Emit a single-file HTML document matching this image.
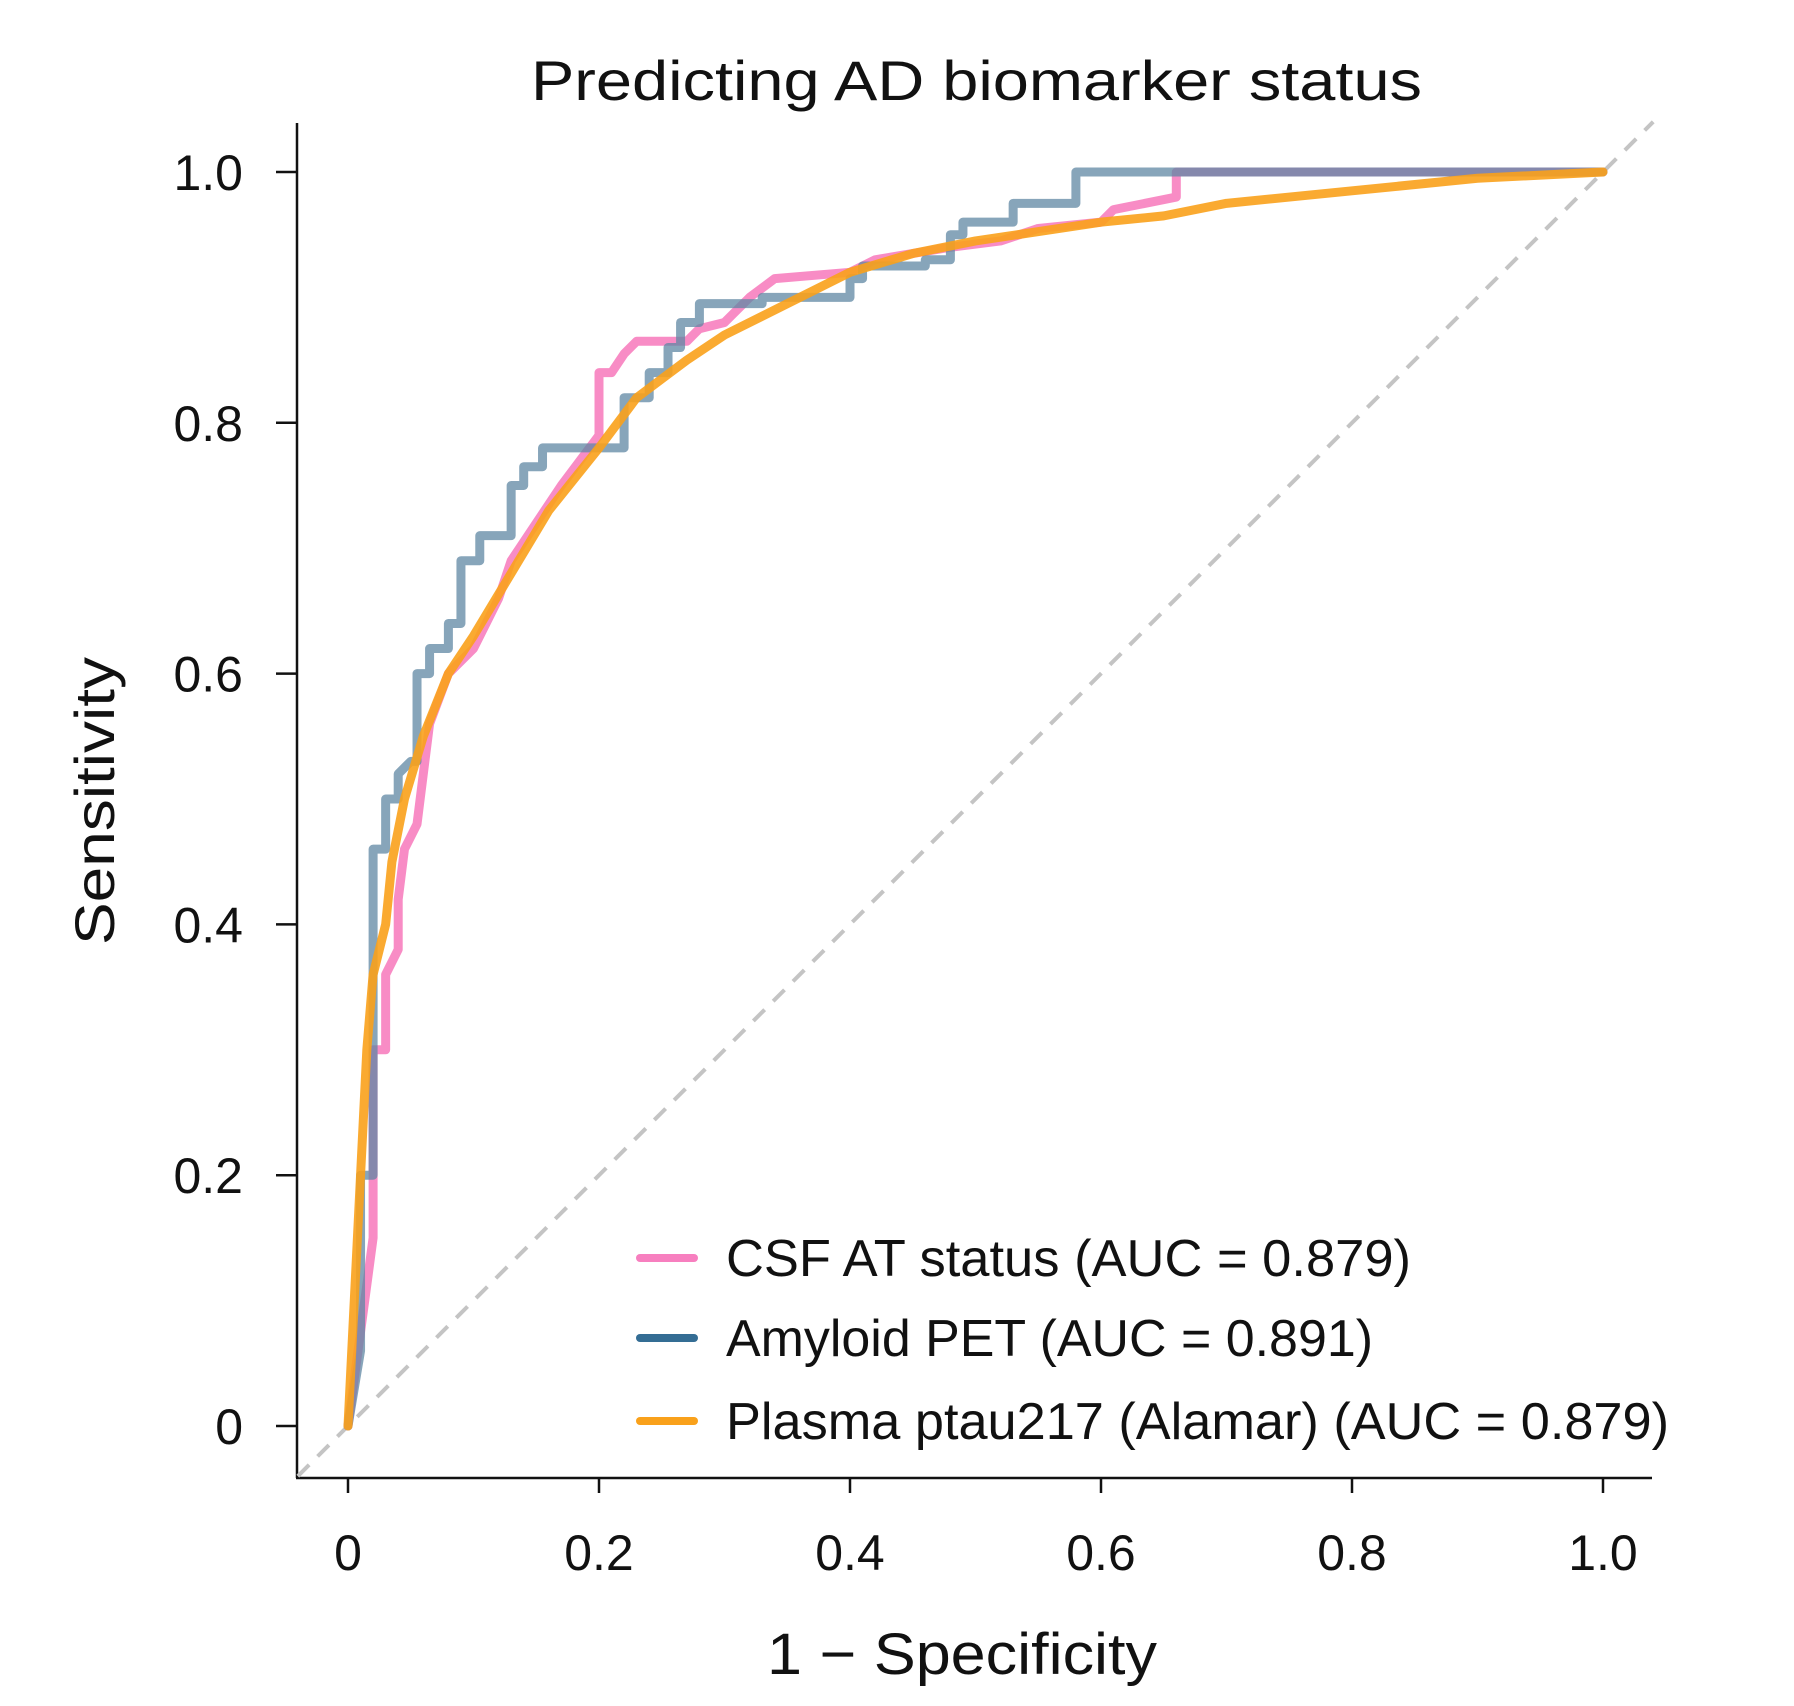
<!DOCTYPE html>
<html><head><meta charset="utf-8"><style>
html,body{margin:0;padding:0;background:#fff;}
svg{display:block;font-family:"Liberation Sans",sans-serif;}
</style></head><body>
<svg id="chart" width="1794" height="1706" viewBox="0 0 1794 1706">
<text x="531" y="100" font-size="56" textLength="891" lengthAdjust="spacingAndGlyphs" fill="#111">Predicting AD biomarker status</text>
<g id="axes"></g>
<g id="plot"></g>
<text transform="translate(114,801) rotate(-90)" font-size="56" text-anchor="middle" textLength="288" lengthAdjust="spacingAndGlyphs" fill="#111">Sensitivity</text>
<text x="767" y="1674" font-size="58" textLength="390" lengthAdjust="spacingAndGlyphs" fill="#111">1 − Specificity</text>
<g id="legend"></g>
</svg>
<script>
const xTicks=[0,0.2,0.4,0.6,0.8,1.0];
const xTickLabels=["0","0.2","0.4","0.6","0.8","1.0"];
const yTicks=[0,0.2,0.4,0.6,0.8,1.0];
const yTickLabels=["0","0.2","0.4","0.6","0.8","1.0"];
const seriesNames=["CSF AT status (AUC = 0.879)","Amyloid PET (AUC = 0.891)","Plasma ptau217 (Alamar) (AUC = 0.879)"];
const petFpr=[0,0.01,0.01,0.02,0.02,0.03,0.03,0.04,0.04,0.05,0.055,0.055,0.065,0.065,0.08,0.08,0.09,0.09,0.105,0.105,0.13,0.13,0.14,0.14,0.155,0.155,0.22,0.22,0.24,0.24,0.255,0.255,0.265,0.265,0.28,0.28,0.33,0.33,0.4,0.4,0.41,0.41,0.46,0.46,0.48,0.48,0.49,0.49,0.53,0.53,0.58,0.58,1];
const petTpr=[0,0.06,0.2,0.2,0.46,0.46,0.5,0.5,0.52,0.53,0.53,0.6,0.6,0.62,0.62,0.64,0.64,0.69,0.69,0.71,0.71,0.75,0.75,0.765,0.765,0.78,0.78,0.82,0.82,0.84,0.84,0.86,0.86,0.88,0.88,0.895,0.895,0.9,0.9,0.915,0.915,0.925,0.925,0.93,0.93,0.95,0.95,0.96,0.96,0.975,0.975,1,1];
const csfFpr=[0,0.02,0.02,0.03,0.03,0.04,0.04,0.045,0.055,0.06,0.065,0.08,0.1,0.12,0.13,0.15,0.17,0.2,0.2,0.21,0.22,0.23,0.27,0.28,0.3,0.32,0.34,0.4,0.42,0.48,0.52,0.55,0.6,0.61,0.66,0.66,1];
const csfTpr=[0,0.15,0.3,0.3,0.36,0.38,0.42,0.46,0.48,0.52,0.56,0.6,0.62,0.66,0.69,0.72,0.75,0.79,0.84,0.84,0.855,0.865,0.865,0.875,0.88,0.9,0.915,0.92,0.93,0.94,0.945,0.955,0.96,0.97,0.98,1,1];
const ptauFpr=[0,0.005,0.01,0.015,0.02,0.03,0.035,0.045,0.06,0.08,0.1,0.13,0.16,0.2,0.23,0.27,0.3,0.35,0.4,0.45,0.5,0.6,0.65,0.7,0.8,0.9,1];
const ptauTpr=[0,0.1,0.2,0.3,0.36,0.4,0.45,0.5,0.55,0.6,0.63,0.68,0.73,0.78,0.82,0.85,0.87,0.895,0.92,0.935,0.945,0.96,0.965,0.975,0.985,0.995,1];

const NS="http://www.w3.org/2000/svg";
const X=v=>348+v*1255, Y=v=>1426-v*1254;
function mk(tag,parent,attrs){const e=document.createElementNS(NS,tag);for(const k in attrs)e.setAttribute(k,attrs[k]);parent.appendChild(e);return e;}
const axes=document.getElementById('axes'),plot=document.getElementById('plot'),leg=document.getElementById('legend');
let a=mk('line',axes,{x1:297,y1:123,x2:297,y2:1478,stroke:'#111','stroke-width':2.5});

a=mk('line',axes,{x1:296,y1:1478,x2:1652,y2:1478,stroke:'#111','stroke-width':2.5});

xTicks.forEach((v,i)=>{
 const t=mk('line',axes,{x1:X(v),y1:1478,x2:X(v),y2:1493,stroke:'#111','stroke-width':2.5});
 
 const l=mk('text',axes,{x:X(v),y:1570,'font-size':50,'text-anchor':'middle',fill:'#111'});l.textContent=xTickLabels[i];
 
});
yTicks.forEach((v,i)=>{
 const t=mk('line',axes,{x1:276,y1:Y(v),x2:297,y2:Y(v),stroke:'#111','stroke-width':2.5});
 
 const l=mk('text',axes,{x:243,y:Y(v)+18,'font-size':50,'text-anchor':'end',fill:'#111'});l.textContent=yTickLabels[i];
 
});
const d=mk('line',plot,{x1:X(-0.04),y1:Y(-0.04),x2:X(1.04),y2:Y(1.04),stroke:'#c4c4c4','stroke-width':4,'stroke-dasharray':'16 12'});

function series(fx,ty,color,op,name){
 const p=mk('polyline',plot,{points:fx.map((v,i)=>X(v)+','+Y(ty[i])).join(' '),fill:'none',stroke:color,'stroke-width':9,'stroke-opacity':op,'stroke-linejoin':'round','stroke-linecap':'round'});
 
}
series(csfFpr,csfTpr,'#f77fbf',0.9,'csf-at-curve');
series(petFpr,petTpr,'#5f87a3',0.75,'amyloid-pet-curve');
series(ptauFpr,ptauTpr,'#f9a11b',0.9,'plasma-ptau217-curve');
const colors=['#f77fbf','#346d94','#f9a11b'];const rows=[1258,1338,1421];const lens=[685,647,943];
seriesNames.forEach((n,i)=>{
 const l=mk('line',leg,{x1:640,y1:rows[i],x2:694,y2:rows[i],stroke:colors[i],'stroke-width':8,'stroke-linecap':'round'});
 
 const t=mk('text',leg,{x:726,y:rows[i]+18,'font-size':52,fill:'#111',textLength:lens[i],lengthAdjust:'spacingAndGlyphs'});t.textContent=n;
 
});
</script>
</body></html>
